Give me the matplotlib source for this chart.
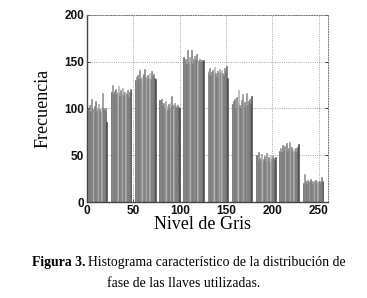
import numpy as np
import matplotlib
matplotlib.use('Agg')
import matplotlib.pyplot as plt

# primer nivel de gris de cada bloque del histograma (22 niveles por bloque)
inicio_bloques = [0, 26, 52, 78, 104, 130, 156, 182, 207, 233]

frecuencias = [
    [100, 98, 104, 96, 110, 99, 101, 95, 103, 108, 97, 100, 105, 99, 96, 102, 117, 100, 98, 101, 97, 86],
    [118, 125, 116, 119, 121, 115, 118, 124, 117, 113, 120, 116, 122, 114, 118, 117, 115, 120, 112, 118, 121, 120],
    [130, 134, 136, 131, 141, 133, 128, 135, 137, 130, 142, 134, 129, 136, 133, 138, 131, 140, 135, 137, 133, 132],
    [109, 107, 110, 104, 106, 101, 108, 103, 98, 105, 100, 107, 102, 113, 104, 99, 106, 103, 101, 104, 102, 101],
    [155, 150, 153, 148, 162, 149, 155, 151, 162, 147, 153, 156, 150, 152, 158, 149, 151, 153, 150, 152, 151, 152],
    [140, 137, 143, 135, 139, 141, 136, 144, 138, 134, 140, 137, 142, 139, 135, 141, 138, 136, 143, 140, 145, 133],
    [105, 108, 103, 110, 101, 112, 106, 120, 104, 100, 109, 115, 103, 107, 102, 111, 117, 104, 108, 110, 105, 113],
    [50, 44, 53, 42, 47, 45, 51, 43, 46, 49, 44, 52, 45, 48, 43, 50, 46, 44, 49, 47, 45, 48],
    [55, 58, 53, 61, 56, 60, 54, 57, 63, 55, 58, 64, 56, 59, 54, 57, 55, 58, 53, 56, 59, 62],
    [20, 30, 22, 19, 24, 21, 23, 20, 25, 22, 19, 23, 21, 24, 20, 22, 21, 23, 20, 27, 22, 21],
]

# tonos de gris dentro de cada bloque
tonos = ['#5c5c5c', '#8a8a8a', '#7a7a7a', '#777777', '#808080', '#7c7c7c', '#9a9a9a', '#b0b0b0',
         '#7a7a7a', '#787878', '#7e7e7e', '#8c8c8c', '#a6a6a6', '#7a7a7a', '#767676', '#bdbdbd',
         '#8a8a8a', '#7a7a7a', '#7c7c7c', '#777777', '#6a6a6a', '#444444']

niveles, alturas, colores = [], [], []
for ini, f in zip(inicio_bloques, frecuencias):
    for k, v in enumerate(f):
        niveles.append(ini + k + 0.5)
        alturas.append(v)
        colores.append(tonos[k])

fig = plt.figure(figsize=(3.67, 2.98), dpi=100)
ax = fig.add_axes([0.237, 0.322, 0.657, 0.628])

ax.bar(niveles, alturas, width=1.0, color=colores, edgecolor=colores, linewidth=0.4)

ax.set_xlim(0, 260)
ax.set_ylim(0, 200)
ax.set_xticks([0, 50, 100, 150, 200, 250])
ax.set_yticks([0, 50, 100, 150, 200])
ax.grid(True, linestyle=':', color='#888888', linewidth=0.6)
ax.set_axisbelow(True)

for s in ['top', 'right']:
    ax.spines[s].set_linestyle(':')
    ax.spines[s].set_color('#777777')
    ax.spines[s].set_linewidth(0.7)
for s in ['left', 'bottom']:
    ax.spines[s].set_color('#444444')
    ax.spines[s].set_linewidth(1.0)

ax.tick_params(direction='in', length=2.5, width=0.7, colors='#333333', right=True, pad=2)
for lab in ax.get_xticklabels() + ax.get_yticklabels():
    lab.set_fontfamily('Liberation Sans')
    lab.set_fontweight('bold')
    lab.set_fontsize(8.5)
    lab.set_color('#111111')

fig.text(0.553, 0.245, 'Nivel de Gris', family='Liberation Serif', fontsize=13,
         ha='center', va='center')
fig.text(0.117, 0.635, 'Frecuencia', family='Liberation Serif', fontsize=13,
         ha='center', va='center', rotation=90)

# pie de figura
renderer = fig.canvas.get_renderer()
t1 = fig.text(0.087, 0.118, 'Figura 3.', family='Liberation Serif', fontweight='bold',
              fontsize=9.9, ha='left', va='center')
bb = t1.get_window_extent(renderer)
x2 = (bb.x1 + 3) / fig.bbox.width
fig.text(x2, 0.118, 'Histograma característico de la distribución de',
         family='Liberation Serif', fontsize=9.9, ha='left', va='center')
fig.text(0.5, 0.048, 'fase de las llaves utilizadas.', family='Liberation Serif',
         fontsize=9.9, ha='center', va='center')

plt.savefig('out.png', dpi=100)
